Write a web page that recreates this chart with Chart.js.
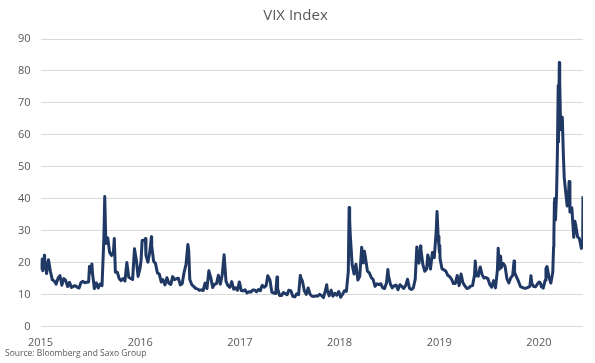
<!DOCTYPE html>
<html><head><meta charset="utf-8">
<script src="https://cdn.jsdelivr.net/npm/chart.js@4"></script>
<style>
html,body{margin:0;padding:0;background:#fff}
#wrap{position:relative;width:595px;height:363px}
#src{position:absolute;left:5px;top:347px;font:8.5px "Open Sans";color:#595959;white-space:nowrap}
</style>
</head><body>
<div id="wrap"><canvas id="c" width="595" height="363"></canvas><div id="src">Source: Bloomberg and Saxo Group</div></div>
<script>
// VIX closes (selected trading days), per year: dates (MM-DD) and values
const d2015 = ["01-02","01-06","01-09","01-15","01-16","01-23","01-30","02-06","02-13","02-20","02-27","03-06","03-13","03-20","03-27","04-02","04-10","04-17","04-24","05-01","05-08","05-15","05-22","05-29","06-05","06-12","06-19","06-26","06-29","07-02","07-08","07-10","07-17","07-24","07-31","08-07","08-14","08-21","08-24","08-28","09-04","09-11","09-18","09-25","09-28","10-02","10-09","10-16","10-23","10-30","11-06","11-13","11-20","11-27","12-04","12-11","12-14","12-18","12-24","12-31"];
const v2015 = [17.79,21.12,17.55,22.39,20.95,16.66,20.97,17.29,14.69,14.30,13.34,15.20,16.00,13.02,15.07,14.67,12.58,13.89,12.29,12.70,12.86,12.38,12.13,13.84,14.21,13.78,13.96,14.02,18.85,16.79,19.66,16.83,11.95,13.74,12.12,13.39,12.83,28.03,40.74,26.05,27.80,23.20,22.28,23.62,27.63,17.08,17.08,15.05,14.46,15.07,14.33,20.08,15.47,15.12,14.81,24.39,22.73,20.70,15.74,18.21];

const d2016 = ["01-04","01-08","01-15","01-20","01-22","01-29","02-05","02-11","02-12","02-19","02-26","03-04","03-11","03-18","03-24","04-01","04-08","04-15","04-22","04-29","05-06","05-13","05-20","05-27","06-03","06-10","06-17","06-24","06-27","07-01","07-08","07-15","07-22","07-29","08-05","08-12","08-19","08-26","09-02","09-09","09-16","09-23","09-30","10-07","10-14","10-21","10-28","11-04","11-11","11-18","11-25","12-02","12-09","12-16","12-23","12-30"];
const v2016 = [20.70,27.01,27.02,27.59,22.34,20.20,23.38,28.14,25.40,20.53,19.81,16.86,16.50,14.02,14.74,13.10,15.36,13.62,13.22,15.70,14.72,15.04,15.20,13.12,13.47,17.03,19.41,25.76,23.85,14.77,13.20,12.67,12.02,11.87,11.39,11.55,11.34,13.65,11.98,17.50,15.37,12.29,13.29,13.48,16.12,13.34,16.19,22.51,14.17,12.85,12.34,14.12,11.75,12.20,11.44,14.04];

const d2017 = ["01-06","01-13","01-20","01-27","02-03","02-10","02-17","02-24","03-03","03-10","03-17","03-21","03-24","03-31","04-07","04-13","04-21","04-28","05-05","05-12","05-17","05-19","05-26","06-02","06-09","06-16","06-23","06-29","07-07","07-14","07-21","07-28","08-04","08-10","08-11","08-18","08-25","09-01","09-08","09-15","09-22","09-29","10-06","10-13","10-20","10-27","11-03","11-10","11-15","11-17","11-24","12-01","12-08","12-15","12-22","12-29"];
const v2017 = [11.32,11.23,11.54,10.58,10.97,10.85,11.49,11.47,10.96,11.66,11.28,12.47,12.96,12.37,12.87,15.96,14.63,10.82,10.57,10.40,15.59,12.04,9.81,9.75,10.70,10.38,10.02,11.44,11.19,9.51,9.36,10.29,10.03,16.04,15.51,14.26,11.28,10.13,12.12,10.17,9.59,9.51,9.65,9.61,10.15,9.80,9.14,11.29,13.13,11.43,9.67,11.43,9.58,10.49,9.90,11.04];

const d2018 = ["01-05","01-12","01-19","01-26","02-02","02-05","02-06","02-08","02-09","02-16","02-23","03-02","03-09","03-16","03-23","03-29","04-02","04-06","04-13","04-20","04-27","05-04","05-11","05-18","05-25","06-01","06-08","06-15","06-22","06-27","06-29","07-06","07-13","07-20","07-27","08-03","08-10","08-17","08-24","08-31","09-07","09-14","09-21","09-28","10-05","10-11","10-12","10-19","10-24","10-26","11-02","11-09","11-16","11-20","11-23","11-30","12-07","12-14","12-21","12-24","12-28","12-31"];
const v2018 = [9.22,10.16,11.27,11.08,17.31,37.32,29.98,33.46,29.06,19.46,16.49,19.59,14.64,15.80,24.87,19.97,23.62,21.49,17.41,16.88,15.41,14.77,12.65,13.42,13.22,13.46,12.18,11.98,13.77,17.91,16.09,13.37,12.18,12.86,13.03,11.64,13.16,12.64,11.99,12.86,14.88,12.07,11.68,12.12,14.82,24.98,21.31,19.89,25.23,24.16,19.51,17.36,18.14,22.48,21.52,18.07,23.23,21.63,30.11,36.07,28.34,25.42];

const d2019 = ["01-02","01-03","01-04","01-11","01-18","01-25","02-01","02-08","02-15","02-22","03-01","03-08","03-15","03-22","03-29","04-05","04-12","04-18","04-26","05-03","05-10","05-13","05-17","05-24","05-31","06-07","06-14","06-21","06-28","07-05","07-12","07-19","07-26","08-02","08-05","08-09","08-14","08-16","08-23","08-30","09-06","09-13","09-20","09-27","10-02","10-04","10-11","10-18","10-25","11-01","11-08","11-15","11-22","11-29","12-03","12-06","12-13","12-20","12-27","12-31"];
const v2019 = [23.22,25.45,21.38,18.19,17.80,17.42,16.14,15.72,14.91,13.51,13.57,16.05,12.88,16.48,13.71,12.82,12.01,12.09,12.73,12.87,16.04,20.55,15.96,15.85,18.71,16.30,15.28,15.40,15.08,13.28,12.39,14.45,12.16,17.61,24.59,17.97,22.10,18.47,19.87,18.98,15.00,13.74,15.32,16.07,20.56,17.04,15.58,14.25,12.65,12.30,12.07,12.05,12.34,12.62,15.96,13.62,12.63,12.51,13.43,13.78];

const d2020 = ["01-03","01-08","01-10","01-17","01-24","01-27","01-31","02-07","02-14","02-21","02-24","02-25","02-27","02-28","03-02","03-06","03-09","03-12","03-13","03-16","03-17","03-18","03-20","03-23","03-24","03-27","03-31","04-03","04-09","04-14","04-17","04-21","04-24","05-01","05-08","05-12","05-15","05-22","05-29","06-05","06-08","06-10","06-11"];
const v2020 = [14.02,13.45,12.56,12.10,14.56,18.23,18.84,15.47,13.68,17.08,25.03,27.85,39.16,40.11,33.42,41.94,54.46,75.47,57.83,82.69,75.91,76.45,66.04,61.59,61.67,65.54,53.54,46.80,41.67,37.76,38.15,45.41,35.93,37.19,27.98,33.04,31.89,28.16,27.51,24.52,25.81,27.57,40.79];

const years = [2015, 2016, 2017, 2018, 2019, 2020];
const yTicks = [0, 10, 20, 30, 40, 50, 60, 70, 80, 90];
const titleText = "VIX Index";

const dateSets = [d2015, d2016, d2017, d2018, d2019, d2020];
const valueSets = [v2015, v2016, v2017, v2018, v2019, v2020];

function decYear(y, mmdd) {
  const [m, d] = mmdd.split("-").map(Number);
  const t = Date.UTC(y, m - 1, d), s = Date.UTC(y, 0, 1), e = Date.UTC(y + 1, 0, 1);
  return y + (t - s) / (e - s);
}
const points = [];
years.forEach((y, i) => {
  dateSets[i].forEach((md, j) => points.push({ x: decYear(y, md), y: valueSets[i][j] }));
});
const xMax = points[points.length - 1].x;

new Chart(document.getElementById("c"), {
  type: "line",
  data: { datasets: [{ data: points, borderColor: "#1f3864", borderWidth: 3, pointRadius: 0, tension: 0, fill: false, borderJoinStyle: "round" }] },
  options: {
    responsive: false, animation: false, devicePixelRatio: 1,
    layout: { padding: { left: 8, right: 12, top: 0, bottom: 13 } },
    plugins: {
      legend: { display: false }, tooltip: { enabled: false },
      title: { display: true, text: titleText, color: "#595959", font: { family: "Open Sans", size: 15, weight: "normal" }, padding: { top: 7, bottom: 14 } }
    },
    scales: {
      x: {
        type: "linear", min: years[0], max: xMax,
        grid: { display: false }, border: { display: false },
        afterBuildTicks: s => { s.ticks = years.map(v => ({ value: v })); },
        ticks: { color: "#595959", font: { family: "Open Sans", size: 11 }, padding: 1, maxRotation: 0, autoSkip: false, callback: v => String(v) }
      },
      y: {
        min: 0, max: 90,
        afterBuildTicks: s => { s.ticks = yTicks.map(v => ({ value: v })); },
        grid: { color: "#d9d9d9", lineWidth: 1, drawTicks: false }, border: { display: false },
        ticks: { color: "#595959", font: { family: "Open Sans", size: 11 }, padding: 10 }
      }
    }
  }
});
</script>
</body></html>
